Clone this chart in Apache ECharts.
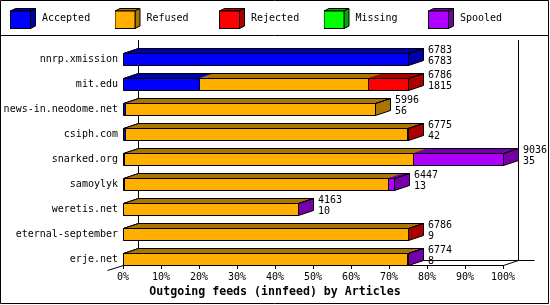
<!DOCTYPE html>
<html><head><meta charset="utf-8">
<script src="https://cdn.jsdelivr.net/npm/echarts@6/dist/echarts.min.js"></script>
<style>html,body{margin:0;padding:0;background:#fff}#c{width:550px;height:305px}</style>
</head><body><div id="c"></div>
<script>
// ---- data ----
const categories = ['nnrp.xmission','mit.edu','news-in.neodome.net','csiph.com','snarked.org','samoylyk','weretis.net','eternal-september','erje.net'];
const offered  = [6783, 6786, 5996, 6775, 9036, 6447, 4163, 6786, 6774];
const accepted = [6783, 1815,   56,   42,   35,   13,   10,    9,    8];
const refused  = [   0, 4020, 5940, 6723, 6868, 6291, 4143, 6762, 6756];
const rejected = [   0,  951,    0,   10,    0,    0,    0,   15,    0];
const missing  = [   0,    0,    0,    0,    0,    0,    0,    0,    0];
const spooled  = [   0,    0,    0,    0, 2133,  143,   10,    0,   10];
const seriesNames = ['Accepted','Refused','Rejected','Missing','Spooled'];
const axisTitle = 'Outgoing feeds (innfeed) by Articles';

// ---- styling ----
const frontColors = ['#0000FF','#FFAF00','#FF0000','#00FF00','#AF00FF'];
const darkColors  = ['#0000AA','#AA7500','#AA0000','#00AA00','#7500AA'];
const FONT = '"DejaVu Sans Mono", monospace';
const D = 15, DY = 5, H = 6;

const segments = [accepted, refused, rejected, missing, spooled];
const maxTotal = Math.max(...offered);
const pct = v => v / maxTotal * 100;

function lastIndex(i){ let l = -1; segments.forEach((s,k)=>{ if (s[i] > 0) l = k; }); return l; }

function segRender(k){
  return function(params, api){
    const s = api.value(0), e = api.value(1), i = api.value(2), last = api.value(3);
    if (!(e > s)) return null;
    const a = api.coord([s, i]), b = api.coord([e, i]);
    const c = Math.round(a[1]);
    const x0 = Math.round(a[0]) + 0.5, x1 = Math.round(b[0]) + 0.5;
    const yt = c - H + 0.5, yb = c + H + 0.5, yk = yt - DY;
    const ch = [
      {type:'polygon', shape:{points:[[x0,yt],[x1,yt],[x1+D,yk],[x0+D,yk]]}, style:{fill:darkColors[k], stroke:darkColors[k], lineWidth:1}},
      {type:'rect', shape:{x:x0, y:yt, width:x1-x0, height:yb-yt}, style:{fill:frontColors[k], stroke:'#000', lineWidth:1}}
    ];
    if (last) ch.push({type:'polygon', shape:{points:[[x1,yt],[x1+D,yk],[x1+D,yk+2*H],[x1,yb]]}, style:{fill:darkColors[k], stroke:'#000', lineWidth:1}});
    return {type:'group', children: ch};
  };
}

const series = seriesNames.map((name, k) => ({
  name, type:'custom', coordinateSystem:'cartesian2d', clip:false, z: 2 + k * 0.01,
  encode:{x:[0,1], y:2},
  data: categories.map((c, i) => {
    let start = 0; for (let j = 0; j < k; j++) start += segments[j][i];
    return [pct(start), pct(start + segments[k][i]), i, lastIndex(i) === k ? 1 : 0];
  }),
  renderItem: segRender(k)
}));

const totals = categories.map((c,i) => segments.reduce((s, arr) => s + arr[i], 0));

series.push({
  name:'outline', type:'custom', coordinateSystem:'cartesian2d', clip:false, z: 3,
  encode:{x:1, y:2},
  data: categories.map((c,i) => [0, pct(totals[i]), i]),
  renderItem(params, api){
    const a = api.coord([api.value(0), api.value(2)]), b = api.coord([api.value(1), api.value(2)]);
    const c = Math.round(a[1]);
    const x0 = Math.round(a[0]) + 0.5, x1 = Math.round(b[0]) + 0.5;
    const yt = c - H + 0.5, yk = yt - DY;
    return {type:'polyline', shape:{points:[[x0,yt],[x0+D,yk],[x1+D,yk],[x1,yt]]}, style:{fill:null, stroke:'#000', lineWidth:1}};
  }
});

series.push({
  name:'labels', type:'custom', coordinateSystem:'cartesian2d', clip:false, z: 4,
  encode:{x:0, y:1},
  data: categories.map((c,i) => [pct(totals[i]), i, offered[i], accepted[i]]),
  renderItem(params, api){
    const p = api.coord([api.value(0), api.value(1)]);
    const c = Math.round(p[1]);
    return {type:'text', style:{text: api.value(2) + '\n' + api.value(3), x: Math.round(p[0]) + D + 5, y: c - 3.5,
      font: '10px ' + FONT, fill:'#000', verticalAlign:'middle', align:'left', lineHeight: 11}};
  }
});

function cubeIcon(front, dark){
  const svg = '<svg xmlns="http://www.w3.org/2000/svg" width="27" height="21" viewBox="0 0 27 21">' +
    '<polygon points="0.5,3 20.5,3 25.5,0.5 5.5,0.5" fill="' + dark + '" stroke="#000"/>' +
    '<polygon points="20.5,3 25.5,0.5 25.5,18 20.5,20.5" fill="' + dark + '" stroke="#000"/>' +
    '<rect x="0.5" y="3" width="20" height="17.5" fill="' + front + '" stroke="#000"/></svg>';
  return 'image://data:image/svg+xml;charset=utf-8,' + encodeURIComponent(svg);
}

const legend = seriesNames.map((n, k) => ({
  data:[{name:n, icon: cubeIcon(frontColors[k], darkColors[k])}],
  left: 10 + k * 104.5, top: 8, padding: 0, itemWidth: 27, itemHeight: 21, selectedMode: false,
  textStyle:{fontFamily: FONT, fontSize: 10, color:'#000', padding:[3,0,0,0]}
}));

const chart = echarts.init(document.getElementById('c'), null, {renderer:'canvas'});
chart.setOption({
  animation: false,
  backgroundColor: '#fff',
  title: {text: axisTitle, left:'center', top: 285, padding: 0,
    textStyle:{fontFamily: FONT, fontWeight:'bold', fontSize: 11.6, lineHeight: 14, color:'#000'}},
  legend,
  grid: {left: 123, right: 47, top: 46.5, bottom: 33.5, containLabel: false},
  xAxis: {type:'value', min: 0, max: 100, interval: 10, offset: -6.5,
    splitLine:{show:false},
    axisLine:{show:true, lineStyle:{color:'#000', width:1}},
    axisTick:{show:true, length:4, lineStyle:{color:'#000'}},
    axisLabel:{formatter:'{value}%', margin: 7, color:'#000', fontFamily: FONT, fontSize: 10, showMinLabel:true, showMaxLabel:true}},
  yAxis: {type:'category', data: categories, inverse: true,
    axisLine:{show:false}, axisTick:{show:false}, splitLine:{show:false},
    axisLabel:{margin: 5, color:'#000', fontFamily: FONT, fontSize: 10}},
  series
});

// frame (3D back wall & floor)
const X0 = Math.round(chart.convertToPixel({xAxisIndex:0}, 0)) + 0.5;
const X1 = Math.round(chart.convertToPixel({xAxisIndex:0}, 100)) + 0.5;
const yFirst = Math.round(chart.convertToPixel({yAxisIndex:0}, 0));
const yLast = Math.round(chart.convertToPixel({yAxisIndex:0}, categories.length - 1));
const floorY = yLast + H + 0.5, backY = floorY - DY, topY = yFirst - H - DY - 8;
const L = (a, b, c, d, z) => ({type:'line', z: z || 0, silent:true, shape:{x1:a, y1:b, x2:c, y2:d}, style:{stroke:'#000', lineWidth:1}});
chart.setOption({graphic: {elements: [
  L(X0 + D, topY, X0 + D, backY),
  L(X1 + D, topY, X1 + D, backY),
  L(X0 + D, backY, X1 + D + 16, backY),
  L(X1, floorY, X1 + D, backY),
  L(X0 - 16, floorY + 5, X0, floorY),
  L(0, 35.5, 549, 35.5, 10),
  {type:'rect', z:10, silent:true, shape:{x:0.5, y:0.5, width:548, height:303}, style:{fill:null, stroke:'#000', lineWidth:1}}
]}});
</script>
</body></html>
